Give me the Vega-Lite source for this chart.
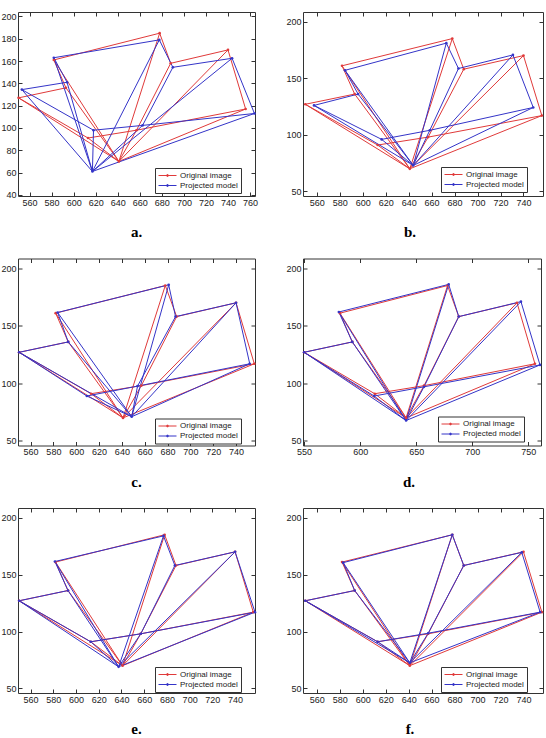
{
"$schema": "https://vega.github.io/schema/vega-lite/v6.json",
"background": "white",
"padding": {"left": 0, "top": 11, "right": 0, "bottom": 0},
"config": {
  "view": {"stroke": "#333", "strokeWidth": 1},
  "axis": {"domain": false, "grid": false, "ticks": true, "tickSize": -4, "tickColor": "#333", "labelPadding": 6, "labelFont": "Liberation Sans", "labelFontSize": 9, "labelColor": "#222", "minExtent": 0, "labelFlush": false, "labelOverlap": false},
  "legend": {"strokeColor": "#333", "fillColor": "#fff", "padding": 3, "labelFontSize": 8, "labelFont": "Liberation Sans", "labelColor": "#222", "symbolType": "M-1,0H3.5M1.1,-0.2H1.4V0.2H1.1Z", "symbolSize": 64, "symbolStrokeWidth": 1, "rowPadding": 1, "labelOffset": 13},
  "title": {"orient": "bottom", "font": "Liberation Serif", "fontSize": 15, "fontWeight": "bold", "color": "#000", "offset": 18, "anchor": "middle", "frame": "group"}
},
"datasets": {
"e": [
{"p":"r","s":"o","x":550,"y":127,"x2":593,"y2":136},
{"p":"r","s":"o","x":593,"y":136,"x2":582,"y2":161},
{"p":"r","s":"o","x":582,"y":161,"x2":678,"y2":185},
{"p":"r","s":"o","x":678,"y":185,"x2":688,"y2":158},
{"p":"r","s":"o","x":688,"y":158,"x2":740,"y2":170},
{"p":"r","s":"o","x":740,"y":170,"x2":756,"y2":117},
{"p":"r","s":"o","x":550,"y":127,"x2":613,"y2":91},
{"p":"r","s":"o","x":613,"y":91,"x2":657,"y2":98},
{"p":"r","s":"o","x":657,"y":98,"x2":756,"y2":117},
{"p":"r","s":"o","x":550,"y":127,"x2":641,"y2":70},
{"p":"r","s":"o","x":613,"y":91,"x2":641,"y2":70},
{"p":"r","s":"o","x":593,"y":136,"x2":641,"y2":70},
{"p":"r","s":"o","x":582,"y":161,"x2":641,"y2":70},
{"p":"r","s":"o","x":641,"y":70,"x2":657,"y2":98},
{"p":"r","s":"o","x":657,"y":98,"x2":688,"y2":158},
{"p":"r","s":"o","x":641,"y":70,"x2":678,"y2":185},
{"p":"r","s":"o","x":641,"y":70,"x2":740,"y2":170},
{"p":"r","s":"o","x":641,"y":70,"x2":756,"y2":117},

{"p":"a","s":"p","x":553,"y":134.4,"x2":594,"y2":141},
{"p":"a","s":"p","x":594,"y":141,"x2":582,"y2":163},
{"p":"a","s":"p","x":582,"y":163,"x2":677.7,"y2":179},
{"p":"a","s":"p","x":677.7,"y":179,"x2":690,"y2":154.4},
{"p":"a","s":"p","x":690,"y":154.4,"x2":743.7,"y2":162.5},
{"p":"a","s":"p","x":743.7,"y":162.5,"x2":764,"y2":113},
{"p":"a","s":"p","x":553,"y":134.4,"x2":618,"y2":98},
{"p":"a","s":"p","x":618,"y":98,"x2":662.5,"y2":102.3},
{"p":"a","s":"p","x":662.5,"y":102.3,"x2":764,"y2":113},
{"p":"a","s":"p","x":553,"y":134.4,"x2":617,"y2":61},
{"p":"a","s":"p","x":618,"y":98,"x2":617,"y2":61},
{"p":"a","s":"p","x":594,"y":141,"x2":617,"y2":61},
{"p":"a","s":"p","x":582,"y":163,"x2":617,"y2":61},
{"p":"a","s":"p","x":617,"y":61,"x2":662.5,"y2":102.3},
{"p":"a","s":"p","x":662.5,"y":102.3,"x2":690,"y2":154.4},
{"p":"a","s":"p","x":617,"y":61,"x2":677.7,"y2":179},
{"p":"a","s":"p","x":617,"y":61,"x2":743.7,"y2":162.5},
{"p":"a","s":"p","x":617,"y":61,"x2":764,"y2":113},

{"p":"b","s":"p","x":557.6,"y":126,"x2":596,"y2":136},
{"p":"b","s":"p","x":596,"y":136,"x2":584.6,"y2":157},
{"p":"b","s":"p","x":584.6,"y":157,"x2":672.8,"y2":181},
{"p":"b","s":"p","x":672.8,"y":181,"x2":683.4,"y2":158.6},
{"p":"b","s":"p","x":683.4,"y":158.6,"x2":730.8,"y2":170.6},
{"p":"b","s":"p","x":730.8,"y":170.6,"x2":748.5,"y2":124.2},
{"p":"b","s":"p","x":557.6,"y":126,"x2":616.5,"y2":96},
{"p":"b","s":"p","x":616.5,"y":96,"x2":658.4,"y2":104},
{"p":"b","s":"p","x":658.4,"y":104,"x2":748.5,"y2":124.2},
{"p":"b","s":"p","x":557.6,"y":126,"x2":644,"y2":73},
{"p":"b","s":"p","x":616.5,"y":96,"x2":644,"y2":73},
{"p":"b","s":"p","x":596,"y":136,"x2":644,"y2":73},
{"p":"b","s":"p","x":584.6,"y":157,"x2":644,"y2":73},
{"p":"b","s":"p","x":644,"y":73,"x2":658.4,"y2":104},
{"p":"b","s":"p","x":658.4,"y":104,"x2":683.4,"y2":158.6},
{"p":"b","s":"p","x":644,"y":73,"x2":672.8,"y2":181},
{"p":"b","s":"p","x":644,"y":73,"x2":730.8,"y2":170.6},
{"p":"b","s":"p","x":644,"y":73,"x2":748.5,"y2":124.2},

{"p":"c","s":"p","x":550,"y":127,"x2":593,"y2":136},
{"p":"c","s":"p","x":593,"y":136,"x2":583.7,"y2":161.6},
{"p":"c","s":"p","x":583.7,"y":161.6,"x2":681,"y2":185.6},
{"p":"c","s":"p","x":681,"y":185.6,"x2":687,"y2":158},
{"p":"c","s":"p","x":687,"y":158,"x2":740,"y2":170},
{"p":"c","s":"p","x":740,"y":170,"x2":752,"y2":117},
{"p":"c","s":"p","x":550,"y":127,"x2":609.3,"y2":89},
{"p":"c","s":"p","x":609.3,"y":89,"x2":653.7,"y2":97.6},
{"p":"c","s":"p","x":653.7,"y":97.6,"x2":752,"y2":117},
{"p":"c","s":"p","x":550,"y":127,"x2":648.6,"y2":71},
{"p":"c","s":"p","x":609.3,"y":89,"x2":648.6,"y2":71},
{"p":"c","s":"p","x":593,"y":136,"x2":648.6,"y2":71},
{"p":"c","s":"p","x":583.7,"y":161.6,"x2":648.6,"y2":71},
{"p":"c","s":"p","x":648.6,"y":71,"x2":653.7,"y2":97.6},
{"p":"c","s":"p","x":653.7,"y":97.6,"x2":687,"y2":158},
{"p":"c","s":"p","x":648.6,"y":71,"x2":681,"y2":185.6},
{"p":"c","s":"p","x":648.6,"y":71,"x2":740,"y2":170},
{"p":"c","s":"p","x":648.6,"y":71,"x2":752,"y2":117},

{"p":"d","s":"p","x":550,"y":127,"x2":593,"y2":136},
{"p":"d","s":"p","x":593,"y":136,"x2":581,"y2":162},
{"p":"d","s":"p","x":581,"y":162,"x2":679,"y2":186},
{"p":"d","s":"p","x":679,"y":186,"x2":688,"y2":158},
{"p":"d","s":"p","x":688,"y":158,"x2":743.5,"y2":171},
{"p":"d","s":"p","x":743.5,"y":171,"x2":760.5,"y2":116},
{"p":"d","s":"p","x":550,"y":127,"x2":612.5,"y2":89},
{"p":"d","s":"p","x":612.5,"y":89,"x2":657,"y2":97},
{"p":"d","s":"p","x":657,"y":97,"x2":760.5,"y2":116},
{"p":"d","s":"p","x":550,"y":127,"x2":641,"y2":67.7},
{"p":"d","s":"p","x":612.5,"y":89,"x2":641,"y2":67.7},
{"p":"d","s":"p","x":593,"y":136,"x2":641,"y2":67.7},
{"p":"d","s":"p","x":581,"y":162,"x2":641,"y2":67.7},
{"p":"d","s":"p","x":641,"y":67.7,"x2":657,"y2":97},
{"p":"d","s":"p","x":657,"y":97,"x2":688,"y2":158},
{"p":"d","s":"p","x":641,"y":67.7,"x2":679,"y2":186},
{"p":"d","s":"p","x":641,"y":67.7,"x2":743.5,"y2":171},
{"p":"d","s":"p","x":641,"y":67.7,"x2":760.5,"y2":116},

{"p":"e","s":"p","x":550,"y":127,"x2":593,"y2":136},
{"p":"e","s":"p","x":593,"y":136,"x2":581.5,"y2":161.5},
{"p":"e","s":"p","x":581.5,"y":161.5,"x2":677,"y2":184},
{"p":"e","s":"p","x":677,"y":184,"x2":687,"y2":158},
{"p":"e","s":"p","x":687,"y":158,"x2":740,"y2":170},
{"p":"e","s":"p","x":740,"y":170,"x2":757.5,"y2":117},
{"p":"e","s":"p","x":550,"y":127,"x2":613,"y2":91},
{"p":"e","s":"p","x":613,"y":91,"x2":657,"y2":98},
{"p":"e","s":"p","x":657,"y":98,"x2":757.5,"y2":117},
{"p":"e","s":"p","x":550,"y":127,"x2":637.5,"y2":69},
{"p":"e","s":"p","x":613,"y":91,"x2":637.5,"y2":69},
{"p":"e","s":"p","x":593,"y":136,"x2":637.5,"y2":69},
{"p":"e","s":"p","x":581.5,"y":161.5,"x2":637.5,"y2":69},
{"p":"e","s":"p","x":637.5,"y":69,"x2":657,"y2":98},
{"p":"e","s":"p","x":657,"y":98,"x2":687,"y2":158},
{"p":"e","s":"p","x":637.5,"y":69,"x2":677,"y2":184},
{"p":"e","s":"p","x":637.5,"y":69,"x2":740,"y2":170},
{"p":"e","s":"p","x":637.5,"y":69,"x2":757.5,"y2":117},

{"p":"f","s":"p","x":550,"y":127,"x2":593,"y2":136},
{"p":"f","s":"p","x":593,"y":136,"x2":583,"y2":160.5},
{"p":"f","s":"p","x":583,"y":160.5,"x2":678,"y2":185},
{"p":"f","s":"p","x":678,"y":185,"x2":688,"y2":158},
{"p":"f","s":"p","x":688,"y":158,"x2":738.5,"y2":169.5},
{"p":"f","s":"p","x":738.5,"y":169.5,"x2":754.5,"y2":117},
{"p":"f","s":"p","x":550,"y":127,"x2":613,"y2":91},
{"p":"f","s":"p","x":613,"y":91,"x2":657,"y2":98.5},
{"p":"f","s":"p","x":657,"y":98.5,"x2":754.5,"y2":117},
{"p":"f","s":"p","x":550,"y":127,"x2":641,"y2":72.5},
{"p":"f","s":"p","x":613,"y":91,"x2":641,"y2":72.5},
{"p":"f","s":"p","x":593,"y":136,"x2":641,"y2":72.5},
{"p":"f","s":"p","x":583,"y":160.5,"x2":641,"y2":72.5},
{"p":"f","s":"p","x":641,"y":72.5,"x2":657,"y2":98.5},
{"p":"f","s":"p","x":657,"y":98.5,"x2":688,"y2":158},
{"p":"f","s":"p","x":641,"y":72.5,"x2":678,"y2":185},
{"p":"f","s":"p","x":641,"y":72.5,"x2":738.5,"y2":169.5},
{"p":"f","s":"p","x":641,"y":72.5,"x2":754.5,"y2":117}
],
"n": [
{"p":"r","s":"o","x":550,"y":127},{"p":"r","s":"o","x":593,"y":136},{"p":"r","s":"o","x":582,"y":161},{"p":"r","s":"o","x":613,"y":91},{"p":"r","s":"o","x":641,"y":70},{"p":"r","s":"o","x":657,"y":98},{"p":"r","s":"o","x":678,"y":185},{"p":"r","s":"o","x":688,"y":158},{"p":"r","s":"o","x":740,"y":170},{"p":"r","s":"o","x":756,"y":117},
{"p":"a","s":"p","x":553,"y":134.4},{"p":"a","s":"p","x":594,"y":141},{"p":"a","s":"p","x":582,"y":163},{"p":"a","s":"p","x":618,"y":98},{"p":"a","s":"p","x":617,"y":61},{"p":"a","s":"p","x":662.5,"y":102.3},{"p":"a","s":"p","x":677.7,"y":179},{"p":"a","s":"p","x":690,"y":154.4},{"p":"a","s":"p","x":743.7,"y":162.5},{"p":"a","s":"p","x":764,"y":113},
{"p":"b","s":"p","x":557.6,"y":126},{"p":"b","s":"p","x":596,"y":136},{"p":"b","s":"p","x":584.6,"y":157},{"p":"b","s":"p","x":616.5,"y":96},{"p":"b","s":"p","x":644,"y":73},{"p":"b","s":"p","x":658.4,"y":104},{"p":"b","s":"p","x":672.8,"y":181},{"p":"b","s":"p","x":683.4,"y":158.6},{"p":"b","s":"p","x":730.8,"y":170.6},{"p":"b","s":"p","x":748.5,"y":124.2},
{"p":"c","s":"p","x":550,"y":127},{"p":"c","s":"p","x":593,"y":136},{"p":"c","s":"p","x":583.7,"y":161.6},{"p":"c","s":"p","x":609.3,"y":89},{"p":"c","s":"p","x":648.6,"y":71},{"p":"c","s":"p","x":653.7,"y":97.6},{"p":"c","s":"p","x":681,"y":185.6},{"p":"c","s":"p","x":687,"y":158},{"p":"c","s":"p","x":740,"y":170},{"p":"c","s":"p","x":752,"y":117},
{"p":"d","s":"p","x":550,"y":127},{"p":"d","s":"p","x":593,"y":136},{"p":"d","s":"p","x":581,"y":162},{"p":"d","s":"p","x":612.5,"y":89},{"p":"d","s":"p","x":641,"y":67.7},{"p":"d","s":"p","x":657,"y":97},{"p":"d","s":"p","x":679,"y":186},{"p":"d","s":"p","x":688,"y":158},{"p":"d","s":"p","x":743.5,"y":171},{"p":"d","s":"p","x":760.5,"y":116},
{"p":"e","s":"p","x":550,"y":127},{"p":"e","s":"p","x":593,"y":136},{"p":"e","s":"p","x":581.5,"y":161.5},{"p":"e","s":"p","x":613,"y":91},{"p":"e","s":"p","x":637.5,"y":69},{"p":"e","s":"p","x":657,"y":98},{"p":"e","s":"p","x":677,"y":184},{"p":"e","s":"p","x":687,"y":158},{"p":"e","s":"p","x":740,"y":170},{"p":"e","s":"p","x":757.5,"y":117},
{"p":"f","s":"p","x":550,"y":127},{"p":"f","s":"p","x":593,"y":136},{"p":"f","s":"p","x":583,"y":160.5},{"p":"f","s":"p","x":613,"y":91},{"p":"f","s":"p","x":641,"y":72.5},{"p":"f","s":"p","x":657,"y":98.5},{"p":"f","s":"p","x":678,"y":185},{"p":"f","s":"p","x":688,"y":158},{"p":"f","s":"p","x":738.5,"y":169.5},{"p":"f","s":"p","x":754.5,"y":117}
]
},
"bounds": "flush",
"columns": 2,
"spacing": {"row": 62.5, "column": 48},
"resolve": {"scale": {"color": "independent"}},
"concat": [
 {"width": 237, "height": 184, "title": {"text": "a.", "dx": 0},
  "layer": [
   {"data": {"name": "e"}, "transform": [{"filter": "datum.p=='a'||datum.p=='r'"}], "mark": {"type": "rule", "strokeWidth": 1},
    "encoding": {
     "x": {"field": "x", "type": "quantitative", "scale": {"domain": [549.5, 764.5], "nice": false, "zero": false}, "axis": {"orient": "bottom", "title": null, "values": [560,580,600,620,640,660,680,700,720,740,760]}},
     "y": {"field": "y", "type": "quantitative", "scale": {"domain": [39, 204], "nice": false, "zero": false}, "axis": {"orient": "left", "title": null, "values": [40,60,80,100,120,140,160,180,200]}},
     "x2": {"field": "x2"}, "y2": {"field": "y2"},
     "color": {"field": "s", "type": "nominal", "scale": {"domain": ["o","p"], "range": ["#e03a3a","#3434c8"]}, "legend": {"title": null, "orient": "none", "legendX": 137, "legendY": 156, "labelExpr": "datum.label=='o'?'Original image':'Projected model'"}}}},
   {"data": {"name": "n"}, "transform": [{"filter": "datum.p=='a'||datum.p=='r'"}], "mark": {"type": "point", "filled": true, "size": 7, "opacity": 1},
    "encoding": {
     "x": {"field": "x", "type": "quantitative", "scale": {"domain": [549.5, 764.5], "nice": false, "zero": false}, "axis": {"orient": "top", "title": null, "labels": false, "values": [560,580,600,620,640,660,680,700,720,740,760]}},
     "y": {"field": "y", "type": "quantitative", "scale": {"domain": [39, 204], "nice": false, "zero": false}, "axis": {"orient": "right", "title": null, "labels": false, "values": [40,60,80,100,120,140,160,180,200]}},
     "color": {"field": "s", "type": "nominal", "scale": {"domain": ["o","p"], "range": ["#e03a3a","#3434c8"]}, "legend": {"title": null, "orient": "none", "legendX": 137, "legendY": 156, "labelExpr": "datum.label=='o'?'Original image':'Projected model'"}}}}
  ],
  "resolve": {"axis": {"x": "independent", "y": "independent"}}},
 {"width": 240, "height": 184, "title": {"text": "b.", "dx": -13},
  "layer": [
   {"data": {"name": "e"}, "transform": [{"filter": "datum.p=='b'||datum.p=='r'"}], "mark": {"type": "rule", "strokeWidth": 1},
    "encoding": {
     "x": {"field": "x", "type": "quantitative", "scale": {"domain": [548, 757], "nice": false, "zero": false}, "axis": {"orient": "bottom", "title": null, "values": [560,580,600,620,640,660,680,700,720,740]}},
     "y": {"field": "y", "type": "quantitative", "scale": {"domain": [46, 208.5], "nice": false, "zero": false}, "axis": {"orient": "left", "title": null, "values": [50,100,150,200]}},
     "x2": {"field": "x2"}, "y2": {"field": "y2"},
     "color": {"field": "s", "type": "nominal", "scale": {"domain": ["o","p"], "range": ["#e03a3a","#3434c8"]}, "legend": {"title": null, "orient": "none", "legendX": 138, "legendY": 155, "labelExpr": "datum.label=='o'?'Original image':'Projected model'"}}}},
   {"data": {"name": "n"}, "transform": [{"filter": "datum.p=='b'||datum.p=='r'"}], "mark": {"type": "point", "filled": true, "size": 7, "opacity": 1},
    "encoding": {
     "x": {"field": "x", "type": "quantitative", "scale": {"domain": [548, 757], "nice": false, "zero": false}, "axis": {"orient": "top", "title": null, "labels": false, "values": [560,580,600,620,640,660,680,700,720,740]}},
     "y": {"field": "y", "type": "quantitative", "scale": {"domain": [46, 208.5], "nice": false, "zero": false}, "axis": {"orient": "right", "title": null, "labels": false, "values": [50,100,150,200]}},
     "color": {"field": "s", "type": "nominal", "scale": {"domain": ["o","p"], "range": ["#e03a3a","#3434c8"]}, "legend": {"title": null, "orient": "none", "legendX": 138, "legendY": 155, "labelExpr": "datum.label=='o'?'Original image':'Projected model'"}}}}
  ],
  "resolve": {"axis": {"x": "independent", "y": "independent"}}},
 {"width": 237, "height": 187, "title": {"text": "c.", "dx": 0},
  "layer": [
   {"data": {"name": "e"}, "transform": [{"filter": "datum.p=='c'||datum.p=='r'"}], "mark": {"type": "rule", "strokeWidth": 1},
    "encoding": {
     "x": {"field": "x", "type": "quantitative", "scale": {"domain": [549, 756.6], "nice": false, "zero": false}, "axis": {"orient": "bottom", "title": null, "values": [560,580,600,620,640,660,680,700,720,740]}},
     "y": {"field": "y", "type": "quantitative", "scale": {"domain": [46, 208.5], "nice": false, "zero": false}, "axis": {"orient": "left", "title": null, "values": [50,100,150,200]}},
     "x2": {"field": "x2"}, "y2": {"field": "y2"},
     "color": {"field": "s", "type": "nominal", "scale": {"domain": ["o","p"], "range": ["#e03a3a","#3434c8"]}, "legend": {"title": null, "orient": "none", "legendX": 137, "legendY": 160, "labelExpr": "datum.label=='o'?'Original image':'Projected model'"}}}},
   {"data": {"name": "n"}, "transform": [{"filter": "datum.p=='c'||datum.p=='r'"}], "mark": {"type": "point", "filled": true, "size": 7, "opacity": 1},
    "encoding": {
     "x": {"field": "x", "type": "quantitative", "scale": {"domain": [549, 756.6], "nice": false, "zero": false}, "axis": {"orient": "top", "title": null, "labels": false, "values": [560,580,600,620,640,660,680,700,720,740]}},
     "y": {"field": "y", "type": "quantitative", "scale": {"domain": [46, 208.5], "nice": false, "zero": false}, "axis": {"orient": "right", "title": null, "labels": false, "values": [50,100,150,200]}},
     "color": {"field": "s", "type": "nominal", "scale": {"domain": ["o","p"], "range": ["#e03a3a","#3434c8"]}, "legend": {"title": null, "orient": "none", "legendX": 137, "legendY": 160, "labelExpr": "datum.label=='o'?'Original image':'Projected model'"}}}}
  ],
  "resolve": {"axis": {"x": "independent", "y": "independent"}}},
 {"width": 238, "height": 187, "title": {"text": "d.", "dx": -13},
  "layer": [
   {"data": {"name": "e"}, "transform": [{"filter": "datum.p=='d'||datum.p=='r'"}], "mark": {"type": "rule", "strokeWidth": 1},
    "encoding": {
     "x": {"field": "x", "type": "quantitative", "scale": {"domain": [549, 761.4], "nice": false, "zero": false}, "axis": {"orient": "bottom", "title": null, "values": [550,600,650,700,750]}},
     "y": {"field": "y", "type": "quantitative", "scale": {"domain": [46, 208.5], "nice": false, "zero": false}, "axis": {"orient": "left", "title": null, "values": [50,100,150,200]}},
     "x2": {"field": "x2"}, "y2": {"field": "y2"},
     "color": {"field": "s", "type": "nominal", "scale": {"domain": ["o","p"], "range": ["#e03a3a","#3434c8"]}, "legend": {"title": null, "orient": "none", "legendX": 135, "legendY": 158, "labelExpr": "datum.label=='o'?'Original image':'Projected model'"}}}},
   {"data": {"name": "n"}, "transform": [{"filter": "datum.p=='d'||datum.p=='r'"}], "mark": {"type": "point", "filled": true, "size": 7, "opacity": 1},
    "encoding": {
     "x": {"field": "x", "type": "quantitative", "scale": {"domain": [549, 761.4], "nice": false, "zero": false}, "axis": {"orient": "top", "title": null, "labels": false, "values": [550,600,650,700,750]}},
     "y": {"field": "y", "type": "quantitative", "scale": {"domain": [46, 208.5], "nice": false, "zero": false}, "axis": {"orient": "right", "title": null, "labels": false, "values": [50,100,150,200]}},
     "color": {"field": "s", "type": "nominal", "scale": {"domain": ["o","p"], "range": ["#e03a3a","#3434c8"]}, "legend": {"title": null, "orient": "none", "legendX": 135, "legendY": 158, "labelExpr": "datum.label=='o'?'Original image':'Projected model'"}}}}
  ],
  "resolve": {"axis": {"x": "independent", "y": "independent"}}},
 {"width": 237, "height": 185, "title": {"text": "e.", "dx": 0},
  "layer": [
   {"data": {"name": "e"}, "transform": [{"filter": "datum.p=='e'||datum.p=='r'"}], "mark": {"type": "rule", "strokeWidth": 1},
    "encoding": {
     "x": {"field": "x", "type": "quantitative", "scale": {"domain": [549, 757.5], "nice": false, "zero": false}, "axis": {"orient": "bottom", "title": null, "values": [560,580,600,620,640,660,680,700,720,740]}},
     "y": {"field": "y", "type": "quantitative", "scale": {"domain": [46, 208.5], "nice": false, "zero": false}, "axis": {"orient": "left", "title": null, "values": [50,100,150,200]}},
     "x2": {"field": "x2"}, "y2": {"field": "y2"},
     "color": {"field": "s", "type": "nominal", "scale": {"domain": ["o","p"], "range": ["#e03a3a","#3434c8"]}, "legend": {"title": null, "orient": "none", "legendX": 137, "legendY": 159, "labelExpr": "datum.label=='o'?'Original image':'Projected model'"}}}},
   {"data": {"name": "n"}, "transform": [{"filter": "datum.p=='e'||datum.p=='r'"}], "mark": {"type": "point", "filled": true, "size": 7, "opacity": 1},
    "encoding": {
     "x": {"field": "x", "type": "quantitative", "scale": {"domain": [549, 757.5], "nice": false, "zero": false}, "axis": {"orient": "top", "title": null, "labels": false, "values": [560,580,600,620,640,660,680,700,720,740]}},
     "y": {"field": "y", "type": "quantitative", "scale": {"domain": [46, 208.5], "nice": false, "zero": false}, "axis": {"orient": "right", "title": null, "labels": false, "values": [50,100,150,200]}},
     "color": {"field": "s", "type": "nominal", "scale": {"domain": ["o","p"], "range": ["#e03a3a","#3434c8"]}, "legend": {"title": null, "orient": "none", "legendX": 137, "legendY": 159, "labelExpr": "datum.label=='o'?'Original image':'Projected model'"}}}}
  ],
  "resolve": {"axis": {"x": "independent", "y": "independent"}}},
 {"width": 240, "height": 185, "title": {"text": "f.", "dx": -13},
  "layer": [
   {"data": {"name": "e"}, "transform": [{"filter": "datum.p=='f'||datum.p=='r'"}], "mark": {"type": "rule", "strokeWidth": 1},
    "encoding": {
     "x": {"field": "x", "type": "quantitative", "scale": {"domain": [548, 757], "nice": false, "zero": false}, "axis": {"orient": "bottom", "title": null, "values": [560,580,600,620,640,660,680,700,720,740]}},
     "y": {"field": "y", "type": "quantitative", "scale": {"domain": [46, 208.5], "nice": false, "zero": false}, "axis": {"orient": "left", "title": null, "values": [50,100,150,200]}},
     "x2": {"field": "x2"}, "y2": {"field": "y2"},
     "color": {"field": "s", "type": "nominal", "scale": {"domain": ["o","p"], "range": ["#e03a3a","#3434c8"]}, "legend": {"title": null, "orient": "none", "legendX": 138, "legendY": 159, "labelExpr": "datum.label=='o'?'Original image':'Projected model'"}}}},
   {"data": {"name": "n"}, "transform": [{"filter": "datum.p=='f'||datum.p=='r'"}], "mark": {"type": "point", "filled": true, "size": 7, "opacity": 1},
    "encoding": {
     "x": {"field": "x", "type": "quantitative", "scale": {"domain": [548, 757], "nice": false, "zero": false}, "axis": {"orient": "top", "title": null, "labels": false, "values": [560,580,600,620,640,660,680,700,720,740]}},
     "y": {"field": "y", "type": "quantitative", "scale": {"domain": [46, 208.5], "nice": false, "zero": false}, "axis": {"orient": "right", "title": null, "labels": false, "values": [50,100,150,200]}},
     "color": {"field": "s", "type": "nominal", "scale": {"domain": ["o","p"], "range": ["#e03a3a","#3434c8"]}, "legend": {"title": null, "orient": "none", "legendX": 138, "legendY": 159, "labelExpr": "datum.label=='o'?'Original image':'Projected model'"}}}}
  ],
  "resolve": {"axis": {"x": "independent", "y": "independent"}}}
]
}
